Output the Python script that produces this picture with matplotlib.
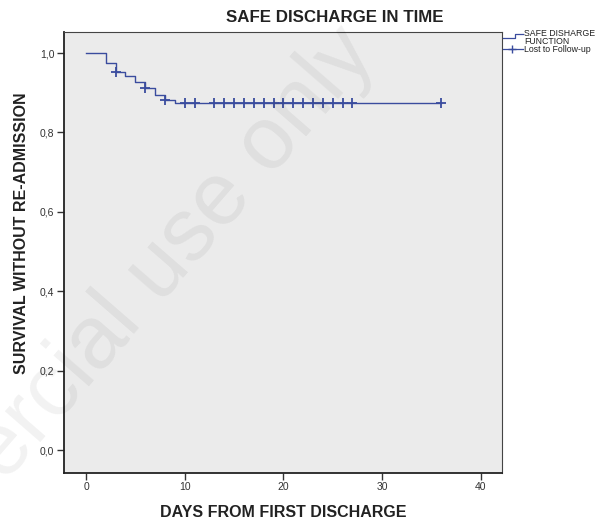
import numpy as np
import matplotlib.pyplot as plt
from matplotlib.lines import Line2D
from matplotlib.ticker import FuncFormatter

plt.rcParams["font.family"] = ["Liberation Sans", "DejaVu Sans"]

# Kaplan-Meier steps (days, survival after the step)
step_days = [0, 2, 3, 4, 5, 6, 7, 8, 9, 36]
step_surv = [1.000, 0.974, 0.953, 0.942, 0.926, 0.911, 0.894, 0.882, 0.873, 0.873]

# censored cases (lost to follow-up)
censor_days = [3, 6, 8, 10, 11, 13, 14, 15, 16, 17, 18, 19, 20, 21, 22,
               23, 24, 25, 26, 27, 36]

x_ticks = [0, 10, 20, 30, 40]
y_ticks = [0.0, 0.2, 0.4, 0.6, 0.8, 1.0]

BLUE = "#3a4c9e"
BG = "#ebebeb"


def surv_at(t):
    idx = np.searchsorted(step_days, t, side="right") - 1
    return step_surv[idx]


fig = plt.figure(figsize=(6.16, 5.2), dpi=100)
ax = fig.add_axes([64 / 616, 1 - 472.7 / 520, (502 - 64) / 616, (472.7 - 32) / 520])
ax.set_facecolor(BG)

ax.step(step_days, step_surv, where="post", color=BLUE, lw=1.0, zorder=3)
ax.plot(censor_days, [surv_at(t) for t in censor_days], ls="none", marker="+",
        ms=7, mew=1.3, color=BLUE, zorder=4)

ax.set_xlim(-2.23, 42.15)
ax.set_ylim(-0.057, 1.053)
ax.set_xticks(x_ticks)
ax.set_yticks(y_ticks)
ax.yaxis.set_major_formatter(FuncFormatter(lambda v, p: f"{v:.1f}".replace(".", ",")))
ax.tick_params(axis="both", direction="out", length=5, width=1.0, labelsize=7.5,
               colors="#333333", labelcolor="#333333", pad=2)
for side in ["left", "bottom"]:
    ax.spines[side].set_linewidth(1.3)
    ax.spines[side].set_color("#222222")
for side in ["top", "right"]:
    ax.spines[side].set_linewidth(0.8)
    ax.spines[side].set_color("#444444")

ax.set_xlabel("DAYS FROM FIRST DISCHARGE", fontsize=11.5, fontweight="bold",
              color="#222222", labelpad=9)
ax.set_ylabel("SURVIVAL WITHOUT RE-ADMISSION", fontsize=11.5, fontweight="bold",
              color="#222222")
ax.yaxis.set_label_coords(-0.08, 0.544)
fig.text(335 / 616, 1 - 18 / 520, "SAFE DISCHARGE IN TIME", ha="center", va="center",
         fontsize=12.2, fontweight="bold", color="#222222")

# legend outside on the right
def fx(px):
    return px / 616


def fy(py):
    return 1 - py / 520


fig.add_artist(Line2D([fx(503), fx(515), fx(515), fx(523)],
                      [fy(38.3), fy(38.3), fy(34), fy(34)], color=BLUE, lw=0.9))
fig.add_artist(Line2D([fx(503), fx(523)], [fy(49.3), fy(49.3)], color=BLUE, lw=0.9))
fig.add_artist(Line2D([fx(512)], [fy(49.3)], marker="+", ms=6, mew=1.0, color=BLUE))
fig.text(fx(524), fy(37.5), "SAFE DISHARGE\nFUNCTION", ha="left", va="center",
         fontsize=6.3, color="#222222", linespacing=0.85)
fig.text(fx(524), fy(49.3), "Lost to Follow-up", ha="left", va="center",
         fontsize=6.3, color="#222222")

# watermark
fig.text(fx(328), fy(12), "Non-commercial use only", rotation=49, rotation_mode="anchor",
         ha="right", va="top", fontsize=64, color="black", alpha=0.055, zorder=10)

fig.savefig("out.png", dpi=100)
